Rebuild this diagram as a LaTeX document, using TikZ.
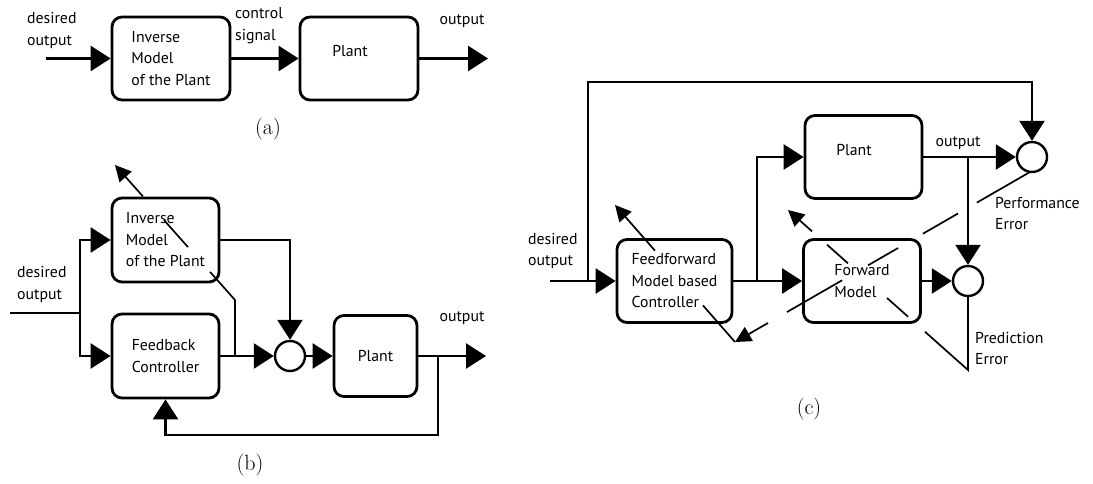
\documentclass[tikz,border=0pt]{standalone}
\usepackage{fontspec}
\setsansfont{PT Sans}
\usetikzlibrary{arrows.meta,calc}
\tikzset{
  txt/.style={font=\sffamily\fontsize{15.8}{21.5}\selectfont, inner sep=0pt, align=left, text=black},
  blk/.style={draw, rounded corners=10pt, line width=2.8pt, inner sep=0pt, font=\sffamily\fontsize{15.8}{21.5}\selectfont, align=left, text=black},
  sumnode/.style={draw, circle, line width=2.4pt, minimum size=30pt, inner sep=0pt},
  arr/.style={line width=2.6pt, -{Triangle[length=20pt,width=25pt]}},
  ln/.style={line width=2.6pt},
  thin/.style={line width=1.7pt},
  tarr/.style={line width=1.7pt, -{Triangle[length=16pt,width=16pt]}},
  lab/.style={font=\rmfamily\fontsize{22}{24}\selectfont, inner sep=0pt}
}
\begin{document}
\begin{tikzpicture}[x=1pt,y=-1pt]
\useasboundingbox[fill=white] (0,0) rectangle (1093,484);

% ---------------- (a) ----------------
\node[blk, minimum width=118pt, minimum height=83pt] (invA) at (171,58.5) {Inverse\\Model\\of the Plant};
\node[blk, minimum width=118pt, minimum height=83pt] (plantA) at (359,58.5) {};
\node[txt] (plantAt) at (350,51.5) {Plant};
\node[txt, anchor=west] (desA) at (27,30.5) {desired\\output};
\node[txt, anchor=west] (ctlA) at (235,25.5) {control\\signal};
\node[txt] (outAt) at (462,21) {output};
\coordinate (inA) at (46,58.5);
\coordinate (outA) at (488,58.5);
\draw[arr] (inA) -- (invA.west);
\draw[arr] (invA.east) -- (plantA.west);
\draw[arr] (plantA.east) -- (outA);
\node[lab] (labA) at (268,129) {(a)};

% ---------------- (b) ----------------
\node[blk, minimum width=107pt, minimum height=84pt] (invB) at (165.5,240) {Inverse\\Model\\of the Plant};
\node[blk, minimum width=107pt, minimum height=84pt] (fbB) at (165.5,356) {Feedback\\Controller};
\node[sumnode] (sumB) at (290,356) {};
\node[blk, minimum width=83pt, minimum height=81pt] (plantB) at (375.5,356) {Plant};
\node[txt, anchor=west] (desB) at (17,284.5) {desired\\output};
\node[txt] (outBt) at (462,318) {output};
\coordinate (inB) at (10,313);
\coordinate (splitB) at (80,313);
\coordinate (outB) at (486,356);
\coordinate (fbkB) at (438,356);
\coordinate (fbkB2) at (438,435);
\coordinate (jB) at (235,356);
\coordinate (B1) at (235,300);
\coordinate (B2) at (115,165);
\draw[ln] (inB) -- (splitB);
\draw[arr] (splitB) |- (invB.west);
\draw[arr] (splitB) |- (fbB.west);
\draw[arr] (invB.east) -| (sumB.north);
\draw[arr] (fbB.east) -- (sumB.west);
\draw[arr] (sumB.east) -- (plantB.west);
\draw[arr] (plantB.east) -- (outB);
\draw[arr] (fbkB) -- (fbkB2) -| (fbB.south);
\draw[thin] (jB) -- (B1) -- ($(B1)!0.208!(B2)$);
\draw[thin] ($(B1)!0.392!(B2)$) -- ($(B1)!0.592!(B2)$);
\draw[tarr] ($(B1)!0.767!(B2)$) -- (B2);
\node[lab] (labB) at (250,465) {(b)};

% ---------------- (c) ----------------
\node[blk, minimum width=115pt, minimum height=83pt] (ffC) at (674.5,281) {Feedforward\\Model based\\Controller};
\node[blk, minimum width=117pt, minimum height=83pt] (fmC) at (862,281) {Forward\\Model};
\node[blk, minimum width=117pt, minimum height=83pt] (plantC) at (863.5,157) {};
\node[txt] (plantCt) at (854,150) {Plant};
\node[sumnode] (perfC) at (1032,157) {};
\node[sumnode] (predC) at (968,281) {};
\node[txt, anchor=west] (desC) at (528,251) {desired\\output};
\node[txt] (outCt) at (958,143) {output};
\node[txt, anchor=west] (perfCt) at (995,213.5) {Performance\\Error};
\node[txt, anchor=west] (predCt) at (975,348.5) {Prediction\\Error};
\coordinate (inC) at (550,281);
\coordinate (splitC) at (588,281);
\coordinate (topC) at (588,82);
\coordinate (brC) at (757,281);
\coordinate (br2C) at (968,157);
\coordinate (Q1) at (968,370);
\coordinate (Q2) at (788,210);
\coordinate (P1) at (1030,172);
\coordinate (P2) at (735,342);
\coordinate (F1) at (735,342);
\coordinate (F2) at (615,205);
\draw[arr] (inC) -- (ffC.west);
\draw[arr] (splitC) -- (topC) -| (perfC.north);
\draw[arr] (ffC.east) -- (fmC.west);
\draw[arr] (brC) |- (plantC.west);
\draw[arr] (plantC.east) -- (perfC.west);
\draw[arr] (br2C) -- (predC.north);
\draw[arr] (fmC.east) -- (predC.west);
% prediction error
\draw[thin] (predC.south) -- (Q1) -- ($(Q1)!0.239!(Q2)$);
\draw[thin] ($(Q1)!0.333!(Q2)$) -- ($(Q1)!0.45!(Q2)$);
\draw[thin] ($(Q1)!0.667!(Q2)$) -- ($(Q1)!0.783!(Q2)$);
\draw[tarr] ($(Q1)!0.867!(Q2)$) -- (Q2);
% performance error
\draw[thin] (P1) -- ($(P1)!0.18!(P2)$);
\draw[thin] ($(P1)!0.244!(P2)$) -- ($(P1)!0.363!(P2)$);
\draw[thin] ($(P1)!0.447!(P2)$) -- ($(P1)!0.549!(P2)$);
\draw[thin] ($(P1)!0.637!(P2)$) -- ($(P1)!0.824!(P2)$);
\draw[tarr] ($(P1)!0.888!(P2)$) -- (P2);
% feedforward adaptation
\draw[thin] (F1) -- ($(F1)!0.267!(F2)$);
\draw[tarr] ($(F1)!0.667!(F2)$) -- (F2);
\node[lab] (labC) at (809,409) {(c)};
\end{tikzpicture}
\end{document}
